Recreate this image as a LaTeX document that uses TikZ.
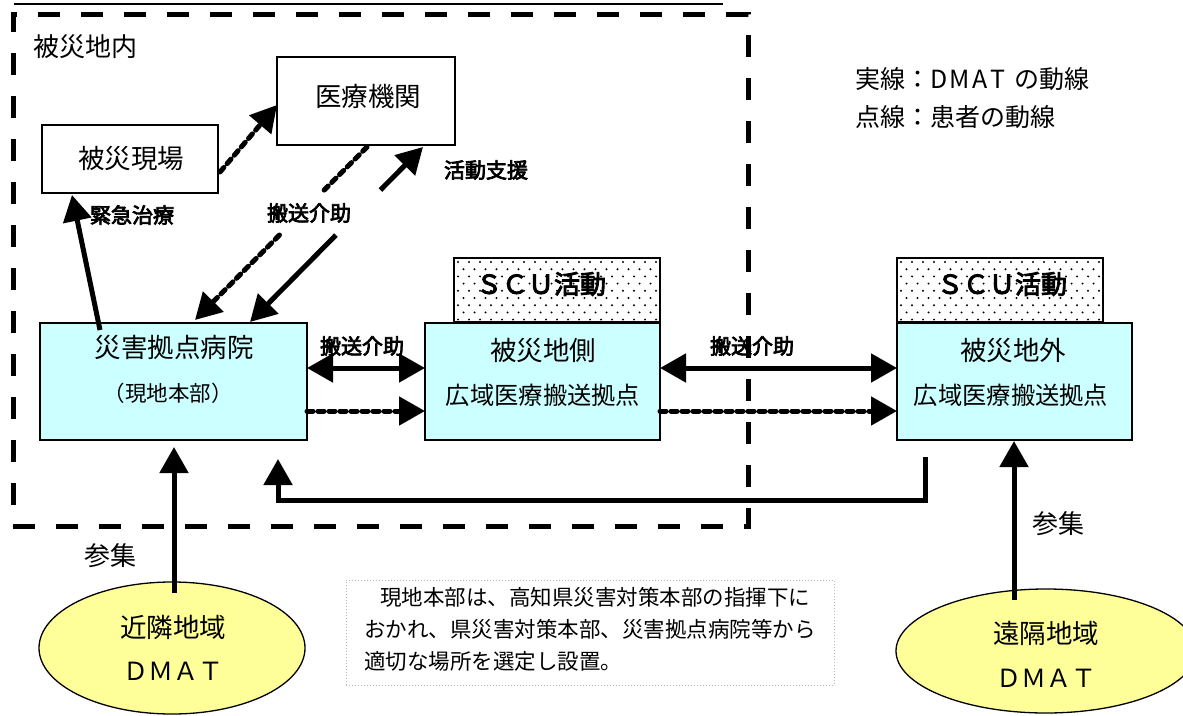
\documentclass[tikz,border=0pt]{standalone}
\usepackage{fontspec}
\setmainfont{Noto Sans CJK JP}
\newfontfamily\jpb[FakeBold=3.5]{Noto Sans CJK JP}
\usetikzlibrary{arrows.meta,calc,shapes.geometric}
\definecolor{boxcyan}{HTML}{CCFFFF}
\definecolor{ellyellow}{HTML}{FFFF99}
\newcommand\jfs[1]{\fontsize{#1}{#1}\selectfont}
\begin{document}
\begin{tikzpicture}[x=1pt,y=-1pt,
  plainbox/.style={draw,line width=1.3pt,rectangle,inner sep=0pt,fill=white},
  cyanbox/.style={plainbox,fill=boxcyan},
  scubox/.style={draw,line width=1.3pt,rectangle,inner sep=0pt},
  lbl/.style={inner sep=0pt,font=\jfs{26.5pt}},
  blbl/.style={inner sep=0pt,font=\jpb\jfs{21pt}},
  sol/.style={line width=5pt},
  dsh/.style={line width=5pt,dash pattern=on 6pt off 5pt,line cap=round},
  oneway/.style={-{Triangle[length=26pt,width=28pt]}},
  twoway/.style={{Triangle[length=26pt,width=28pt]}-{Triangle[length=26pt,width=28pt]}},
  ell/.style={ellipse,draw,line width=1.3pt,fill=ellyellow,inner sep=0pt}
]
\useasboundingbox (0,0) rectangle (1183,715);
\fill[white] (0,0) rectangle (1183,715);

% top cut line
\draw[line width=2.5pt] (14,4) coordinate (tl1) -- (723,4) coordinate (tl2);

% dashed region
\node[draw,line width=5pt,dash pattern=on 22pt off 21pt,rectangle,inner sep=0pt,
      minimum width=735pt,minimum height=512pt] (naibu) at (380.5,270) {};
\node[inner sep=0pt,anchor=west,font=\jfs{26pt}] (naibuT) at (33,47) {被災地内};

% legend
\node[inner sep=0pt,anchor=west,font=\jfs{25pt}] (leg1) at (855,79) {実線：D\kern2.5pt M\kern2.5pt A\kern2.5pt T\hspace{9pt}の動線};
\node[inner sep=0pt,anchor=west,font=\jfs{25pt}] (leg2) at (855,117) {点線：患者の動線};

% top boxes
\node[plainbox,minimum width=176pt,minimum height=68pt] (genba) at (130,159) {};
\node[lbl] (genbaT) at (131,159) {被災現場};
\node[plainbox,minimum width=178pt,minimum height=88pt] (iryo) at (366,101) {};
\node[lbl] (iryoT) at (368,96) {医療機関};

% SCU boxes
\node[scubox,minimum width=206pt,minimum height=64pt] (scu1) at (557,290) {};
\node[scubox,minimum width=206pt,minimum height=64pt] (scu2) at (1000,290) {};
\begin{scope}
  \clip (454,258) rectangle (660,322);
  \foreach \r in {0,...,9}{\foreach \c in {0,...,19}{
    \fill ({458+\c*11+mod(\r,2)*5.5},{262+\r*7.2}) circle (1.1pt);}}
\end{scope}
\begin{scope}
  \clip (897,258) rectangle (1103,322);
  \foreach \r in {0,...,9}{\foreach \c in {0,...,19}{
    \fill ({901+\c*11+mod(\r,2)*5.5},{262+\r*7.2}) circle (1.1pt);}}
\end{scope}
\node[scubox,minimum width=206pt,minimum height=64pt] at (557,290) {};
\node[scubox,minimum width=206pt,minimum height=64pt] at (1000,290) {};
\node[inner sep=0pt,font=\jpb\jfs{26pt}] (scu1T) at (541,284) {ＳＣＵ活動};
\node[inner sep=0pt,font=\jpb\jfs{26pt}] (scu2T) at (1002,284) {ＳＣＵ活動};

% main cyan boxes
\node[cyanbox,minimum width=267pt,minimum height=117pt] (kyoten) at (173.5,381.5) {};
\node[lbl] (kyotenT1) at (174,347) {災害拠点病院};
\node[inner sep=0pt,font=\jfs{21.5pt}] (kyotenT2) at (168,393) {（現地本部）};
\node[cyanbox,minimum width=235pt,minimum height=117pt] (soku) at (542.5,381.5) {};
\node[lbl] (sokuT1) at (543,350) {被災地側};
\node[inner sep=0pt,font=\jfs{24.3pt}] (sokuT2) at (543,395) {広域医療搬送拠点};
\node[cyanbox,minimum width=235pt,minimum height=117pt] (gai) at (1014.5,381.5) {};
\node[lbl] (gaiT1) at (1013,350) {被災地外};
\node[inner sep=0pt,font=\jfs{24.3pt}] (gaiT2) at (1011,395) {広域医療搬送拠点};

% ellipses
\node[ell,minimum width=266pt,minimum height=132pt] (kinrin) at (172,648) {};
\node[lbl] (kinrinT1) at (173,627) {近隣地域};
\node[inner sep=0pt,font=\jfs{25pt}] (kinrinT2) at (173,671) {ＤＭＡＴ};
\node[ell,minimum width=300pt,minimum height=124pt] (enkaku) at (1046,651) {};
\node[lbl] (enkakuT1) at (1046,633) {遠隔地域};
\node[inner sep=0pt,font=\jfs{25pt}] (enkakuT2) at (1046,678) {ＤＭＡＴ};

% note
\node[draw=gray!55,dotted,line width=1pt,rectangle,inner sep=0pt,
      minimum width=488pt,minimum height=105pt] (note) at (590,632.5) {};
\node[inner sep=0pt,anchor=north west,align=left,font=\fontsize{21.5pt}{32pt}\selectfont]
  (noteT) at (364,587) {\hspace*{16pt}現地本部は、高知県災害対策本部の指揮下に\\おかれ、県災害対策本部、災害拠点病院等から\\適切な場所を選定し設置。};

% coordinates for connectors
\coordinate (e1) at (100,330);
\coordinate (e2) at (72,195);
\coordinate (g1) at (220,172);
\coordinate (g2) at (277,105);
\coordinate (dC) at (367,147);
\coordinate (dD) at (195,320);
\coordinate (sA) at (423,147);
\coordinate (sB) at (250,322);
\coordinate (k1) at (307,368);
\coordinate (k2) at (425,368);
\coordinate (k3) at (307,411);
\coordinate (k4) at (425,411);
\coordinate (s1) at (660,368);
\coordinate (s2) at (897,368);
\coordinate (s3) at (660,411);
\coordinate (s4) at (897,411);
\coordinate (r1) at (925,457);
\coordinate (r2) at (925,500);
\coordinate (r3) at (278,500);
\coordinate (r4) at (278,459);
\coordinate (u1) at (174,593);
\coordinate (u2) at (174,447);
\coordinate (v1) at (1014,600);
\coordinate (v2) at (1014,441);

% connectors
\draw[sol,oneway] (e1) -- (e2);
\draw[dsh,oneway] (g1) -- (g2);
\draw[dsh] (dC) -- ($(dC)!0.249!(dD)$);
\draw[dsh,oneway] ($(dC)!0.509!(dD)$) -- (dD);
\draw[sol,oneway] ($(sA)!0.246!(sB)$) -- (sA);
\draw[sol,oneway] ($(sA)!0.503!(sB)$) -- (sB);
\draw[sol,twoway] (k1) -- (k2);
\draw[dsh,oneway] (k3) -- (k4);
\draw[sol,twoway] (s1) -- (s2);
\draw[dsh,oneway] (s3) -- (s4);
\draw[sol,oneway] (r1) -- (r2) -- (r3) -- (r4);
\draw[sol,oneway] (u1) -- (u2);
\draw[sol,oneway] (v1) -- (v2);

% labels
\node[blbl] (lkatsu) at (486,170) {活動支援};
\node[blbl] (lkinkyu) at (132,215) {緊急治療};
\node[blbl] (lhan1) at (309,213) {搬送介助};
\node[blbl] (lhan2) at (362,346) {搬送介助};
\node[blbl] (lhan3) at (752,346) {搬送介助};
\node[inner sep=0pt,font=\jfs{26pt}] (lsan1) at (110,556) {参集};
\node[inner sep=0pt,font=\jfs{26pt}] (lsan2) at (1058,524) {参集};
\end{tikzpicture}
\end{document}
